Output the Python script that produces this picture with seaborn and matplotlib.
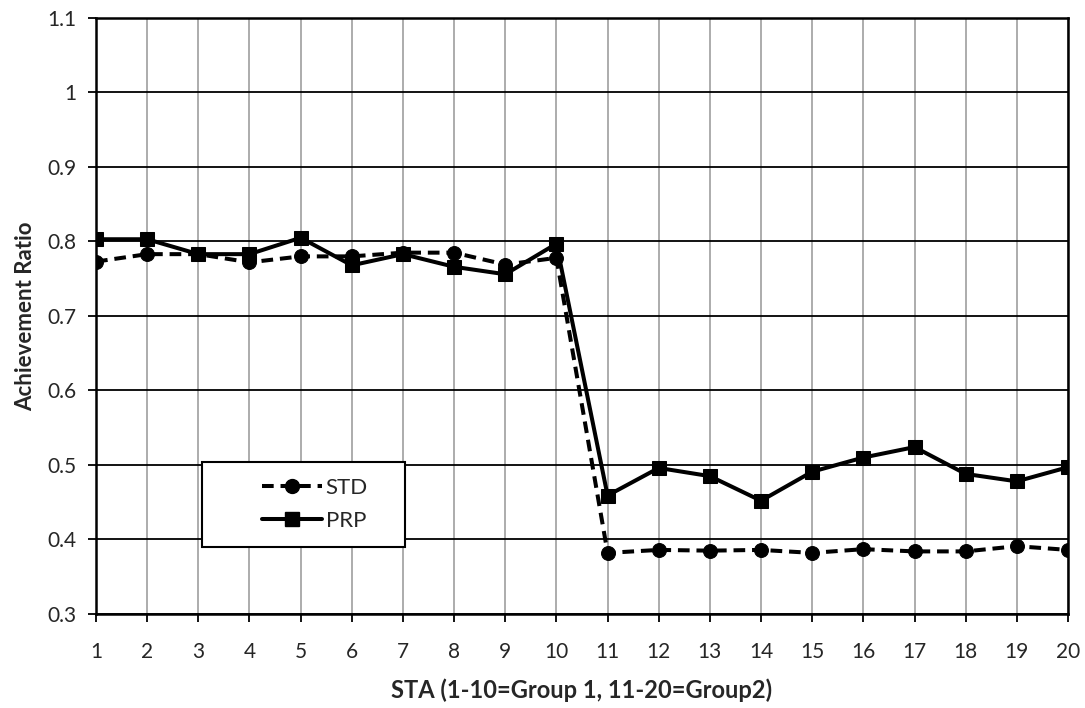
import matplotlib
matplotlib.use("Agg")
import matplotlib.pyplot as plt
import seaborn as sns
import pandas as pd
from matplotlib.lines import Line2D
from matplotlib.patches import Rectangle

sta = list(range(1, 21))
std_vals = [0.773, 0.783, 0.783, 0.772, 0.780, 0.780, 0.785, 0.785, 0.769, 0.778,
            0.382, 0.386, 0.385, 0.386, 0.382, 0.387, 0.384, 0.384, 0.391, 0.386]
prp_vals = [0.803, 0.803, 0.783, 0.783, 0.805, 0.768, 0.783, 0.766, 0.756, 0.797,
            0.459, 0.496, 0.485, 0.452, 0.491, 0.510, 0.524, 0.488, 0.478, 0.497]
y_ticks = [0.3, 0.4, 0.5, 0.6, 0.7, 0.8, 0.9, 1.0, 1.1]
y_tick_labels = ["0.3", "0.4", "0.5", "0.6", "0.7", "0.8", "0.9", "1", "1.1"]

df = pd.DataFrame({
    "STA": sta + sta,
    "Ratio": std_vals + prp_vals,
    "Series": ["STD"] * 20 + ["PRP"] * 20,
})

sns.set_style("white")
plt.rcParams['font.family'] = ['Lato', 'DejaVu Sans']

fig = plt.figure(figsize=(10.85, 7.08), dpi=100)
ax = fig.add_axes([0.0885, 0.1328, 0.9843 - 0.0885, 0.9746 - 0.1328])

LW = 2.9
DASH = (2.9, 1.7)
MS = 10

sns.lineplot(data=df, x="STA", y="Ratio", style="Series",
             markers={"STD": "o", "PRP": "s"},
             dashes={"STD": DASH, "PRP": ""},
             color="black", linewidth=LW, markersize=MS,
             markeredgecolor="black", ax=ax, zorder=5, legend=False)

ax.set_xlim(1, 20)
ax.set_ylim(0.3, 1.1)
ax.set_xticks(sta)
ax.set_xticklabels([str(s) for s in sta])
ax.set_yticks(y_ticks)
ax.set_yticklabels(y_tick_labels)

for x in sta:
    ax.axvline(x, color="#a6a6a6", linewidth=1.3, zorder=1)
for y in y_ticks:
    ax.axhline(y, color="black", linewidth=1.3, zorder=1)

for sp in ax.spines.values():
    sp.set_visible(True)
    sp.set_color("black")
    sp.set_linewidth(1.8)
    sp.set_zorder(2)

ax.tick_params(axis="x", direction="out", length=6, width=1.3, color="black",
               labelsize=15, pad=14, bottom=True)
ax.tick_params(axis="y", direction="out", length=6, width=1.3, color="black",
               labelsize=15, pad=8, left=True)

ax.set_xlabel("STA (1-10=Group 1, 11-20=Group2)", fontsize=17, fontweight="bold", labelpad=12)
ax.set_ylabel("Achievement Ratio", fontsize=16, fontweight="bold", labelpad=8)

# legend box
bx, by, bw, bh = 0.109, 0.1124, 0.209, 0.1426
rect = Rectangle((bx, by), bw, bh, transform=ax.transAxes, facecolor="white",
                 edgecolor="black", linewidth=1.5, zorder=9)
ax.add_patch(rect)
handles = [
    Line2D([], [], color="black", linestyle=(0, DASH), linewidth=LW, marker="o", markersize=MS),
    Line2D([], [], color="black", linestyle="-", linewidth=LW, marker="s", markersize=MS),
]
leg = ax.legend(handles, ["STD", "PRP"], loc="center",
                bbox_to_anchor=(bx + bw / 2 + 0.012, by + bh / 2),
                fontsize=16, frameon=False, handlelength=2.7,
                labelspacing=0.6, handletextpad=0.15, borderaxespad=0, borderpad=0)
leg.set_zorder(10)

fig.savefig("out.png", dpi=100, facecolor="white")
